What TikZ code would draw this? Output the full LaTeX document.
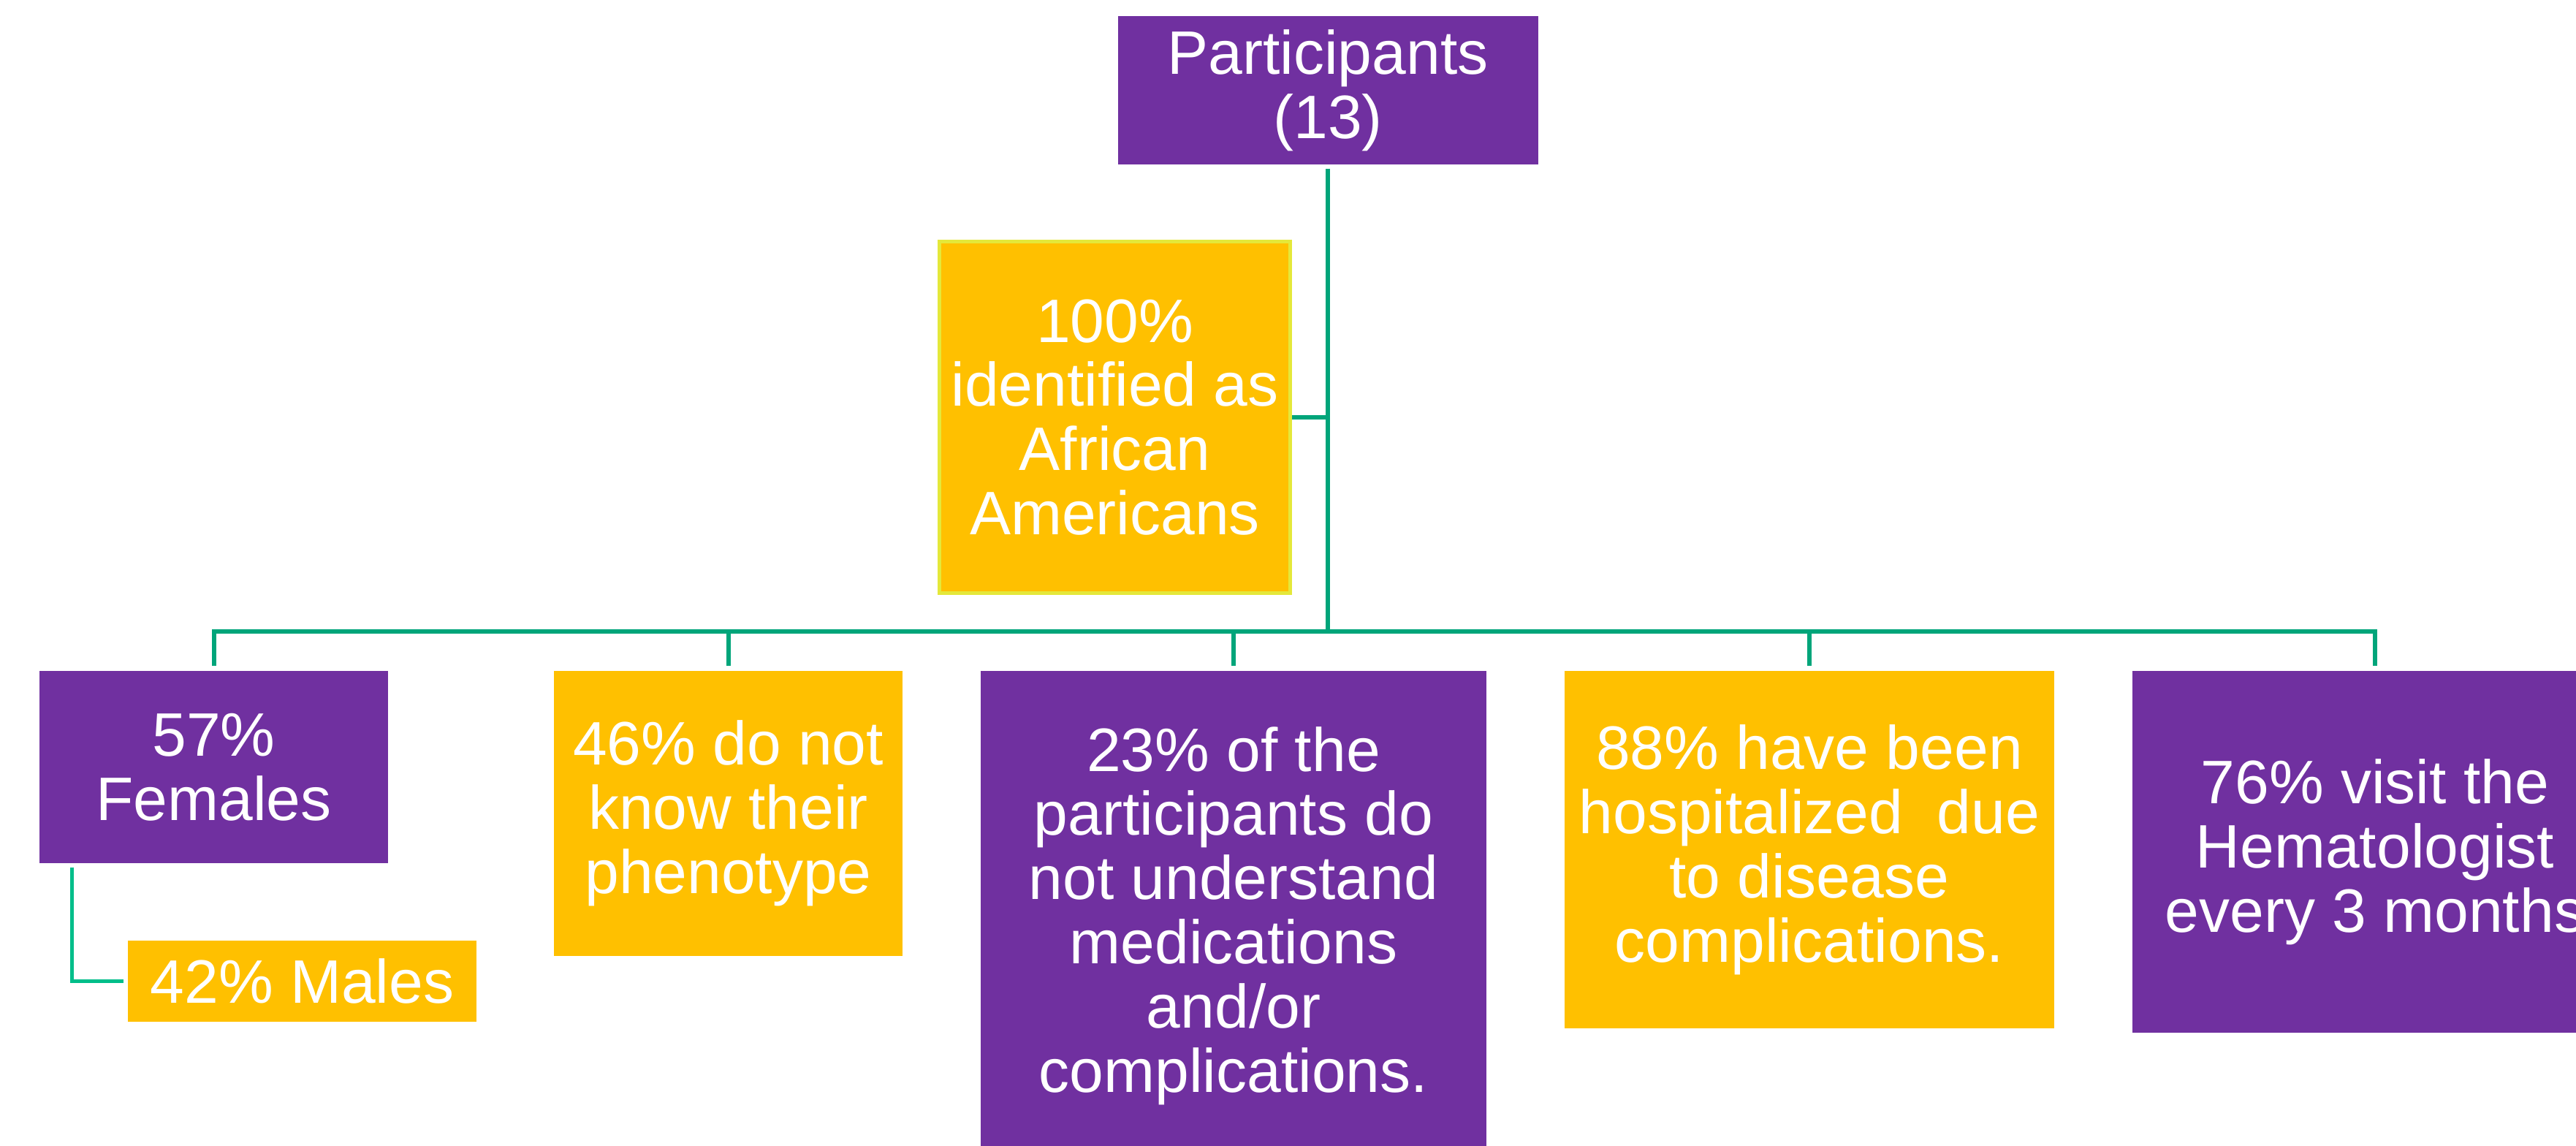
\documentclass[tikz,border=0pt]{standalone}
\usepackage{fontspec}
\setmainfont{Liberation Sans}
\definecolor{vio}{HTML}{7030A0}
\definecolor{gold}{HTML}{FFC000}
\definecolor{teal}{HTML}{00A57A}
\definecolor{mint}{HTML}{00BE8A}
\definecolor{lime}{HTML}{E4E83A}

\begin{document}
\begin{tikzpicture}[
  box/.style={inner sep=0pt,align=center,text=white,
    font=\fontsize{23.9pt}{25pt}\selectfont},
  vbox/.style={box,fill=vio},
  gbox/.style={box,fill=gold},
  link/.style={draw=teal,line width=0.6mm},
  sublink/.style={draw=mint,line width=0.5mm}]
\path[use as bounding box,clip] (0,0) rectangle (35.25,-15.68);
\node[vbox,minimum width=5.75cm,minimum height=2.03cm] (part) at (18.17,-1.235) {Participants\\(13)};
\node[gbox,draw=lime,line width=0.5mm,minimum width=4.8cm,minimum height=4.81cm] (afam) at (15.255,-5.71) {100\%\\identified as\\African\\Americans};
\node[vbox,minimum width=4.77cm,minimum height=2.63cm] (fem) at (2.925,-10.495) {57\%\\Females};
\node[gbox,minimum width=4.77cm,minimum height=1.11cm] (male) at (4.135,-13.425) {42\% Males};
\node[gbox,minimum width=4.77cm,minimum height=3.9cm] (pheno) at (9.965,-11.13) {46\% do not\\know their\\phenotype};
\node[vbox,minimum width=6.92cm,minimum height=6.7cm] (meds) at (16.88,-12.53) {23\% of the\\participants do\\not understand\\medications\\and/or\\complications.};
\node[gbox,minimum width=6.7cm,minimum height=4.89cm] (hosp) at (24.76,-11.625) {88\% have been\\hospitalized \ due\\to disease\\complications.};
\node[vbox,minimum width=6.64cm,minimum height=4.95cm] (hema) at (32.5,-11.655) {76\% visit the\\Hematologist\\every 3 months};
\coordinate (bus) at (18.17,-8.64);
\draw[link] ([yshift=-0.5mm]part.south) -- (bus);
\draw[link] (afam.east) -- (afam.east -| bus);
\draw[link] ([yshift=0.6mm]fem.north) |- (bus) -| ([yshift=0.6mm]hema.north);
\foreach \n in {pheno,meds,hosp}
  \draw[link] ([yshift=0.6mm]\n.north) -- (\n.north |- bus);
\draw[sublink] ([xshift=4.5mm,yshift=-0.5mm]fem.south west) |- ([xshift=-0.5mm]male.west);
\end{tikzpicture}
\end{document}
